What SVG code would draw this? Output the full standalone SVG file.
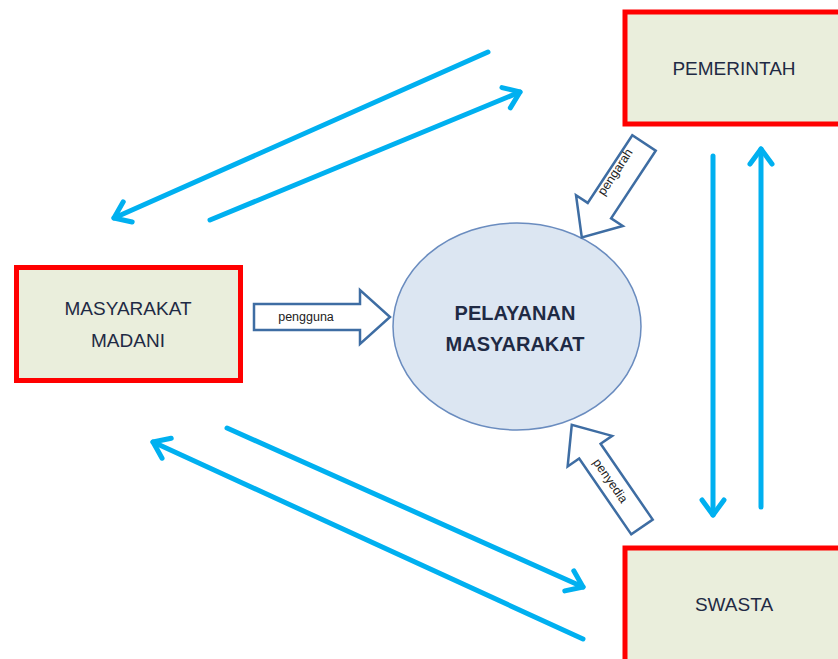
<svg xmlns="http://www.w3.org/2000/svg" width="838" height="659" viewBox="0 0 838 659">
<defs>
<marker id="chev" markerUnits="userSpaceOnUse" markerWidth="40" markerHeight="40" viewBox="-20 -20 40 40" refX="0" refY="0" orient="auto">
<path d="M-15,-11 L0,0 L-15,11" fill="none" stroke="#00b0f0" stroke-width="5" stroke-linecap="round" stroke-linejoin="round"/>
</marker>
</defs>
<style>
.box{fill:#eaeedc;stroke:#ff0000;stroke-width:5}
.lbl{font-family:"Liberation Sans",Arial,sans-serif;font-size:19px;fill:#1f2a44;text-anchor:middle}
.flow{fill:none;stroke:#00b0f0;stroke-width:5;stroke-linecap:round;marker-end:url(#chev)}
.blk{fill:#ffffff;stroke:#3e6da3;stroke-width:2.5;stroke-linejoin:miter}
.small{font-family:"Liberation Sans",Arial,sans-serif;font-size:12.5px;fill:#222;text-anchor:middle}
.center{font-family:"Liberation Sans",Arial,sans-serif;font-size:20px;font-weight:bold;fill:#1f2a44;text-anchor:middle}
</style>
<rect width="838" height="659" fill="#ffffff"/>
<g id="connectors">
<line class="flow" x1="488" y1="52" x2="114" y2="218"/>
<line class="flow" x1="210" y1="220" x2="520" y2="92"/>
<line class="flow" x1="713" y1="156" x2="713" y2="515"/>
<line class="flow" x1="761" y1="507" x2="761" y2="149"/>
<line class="flow" x1="227" y1="428" x2="583" y2="587"/>
<line class="flow" x1="583" y1="639" x2="153" y2="442"/>
</g>
<g id="pelayanan">
<ellipse cx="517" cy="326.5" rx="124" ry="103.5" fill="#dce6f2" stroke="#6a8cbf" stroke-width="1.5"/>
<text class="center" x="515" y="320">PELAYANAN</text>
<text class="center" x="515" y="351">MASYARAKAT</text>
</g>
<g id="pemerintah">
<rect class="box" x="625" y="12" width="220" height="112"/>
<text class="lbl" x="734" y="75">PEMERINTAH</text>
</g>
<g id="masyarakat-madani">
<rect class="box" x="16.5" y="267.5" width="224" height="113"/>
<text class="lbl" x="128" y="315">MASYARAKAT</text>
<text class="lbl" x="128" y="347">MADANI</text>
</g>
<g id="swasta">
<rect class="box" x="625" y="548" width="220" height="120"/>
<text class="lbl" x="734" y="611">SWASTA</text>
</g>
<g id="pengguna">
<polygon class="blk" points="254,304 360,304 360,290 390,317 360,344 360,330 254,330"/>
<text class="small" x="306" y="321">pengguna</text>
</g>
<g id="pengarah" transform="translate(644,143) rotate(123.4)">
<polygon class="blk" points="0,-14 81,-14 81,-28 113,0 81,28 81,14 0,14"/>
<text class="small" transform="translate(40,4) rotate(180)" x="0" y="0">pengarah</text>
</g>
<g id="penyedia" transform="translate(642,527) rotate(-124.5)">
<polygon class="blk" points="0,-13 92,-13 92,-27 124,0 92,27 92,13 0,13"/>
<text class="small" transform="translate(56,-4) rotate(180)" x="0" y="0">penyedia</text>
</g>
</svg>
